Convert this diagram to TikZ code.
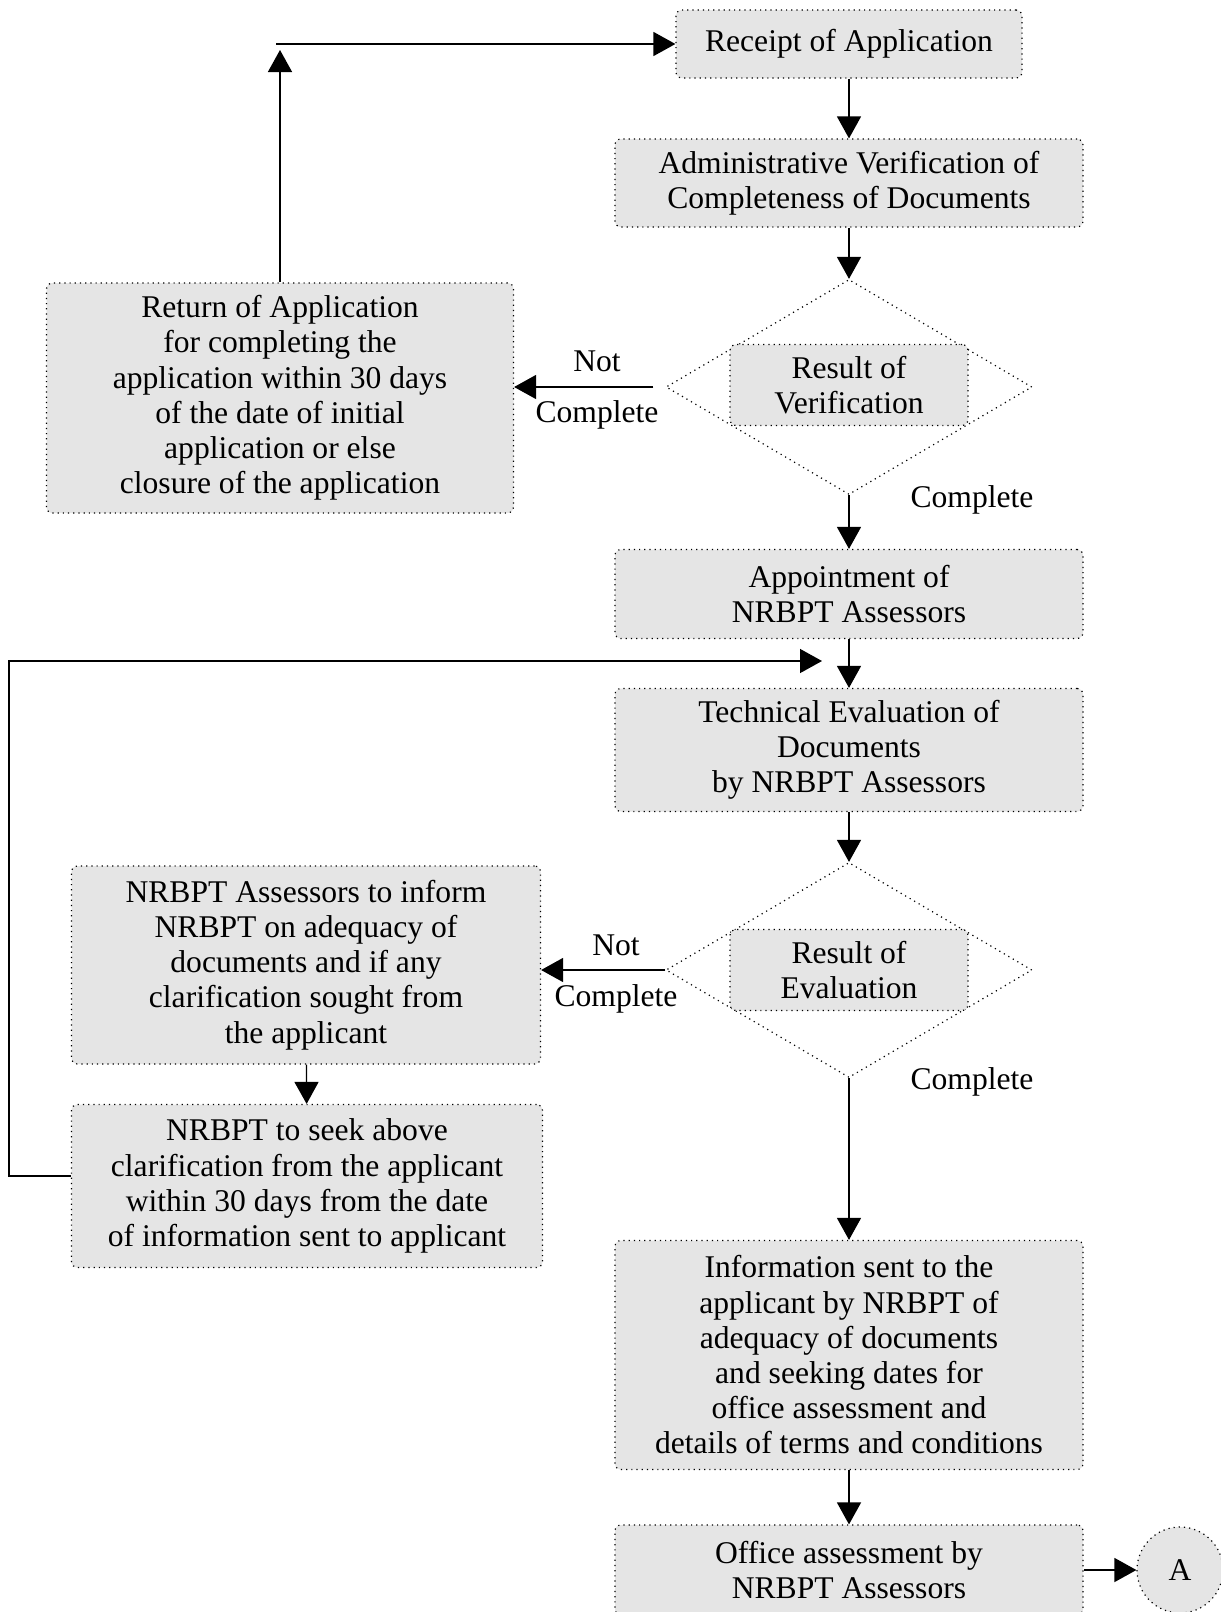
\documentclass[tikz,border=0pt]{standalone}
\usepackage{fontspec}
\setmainfont{Liberation Serif}
\usetikzlibrary{arrows.meta,shapes.geometric}
\tikzstyle{flowchartstyle}=[
    x=0.5pt, y=-0.5pt,
    >={Triangle[length=11pt,width=12pt]},
    line width=0.7pt,
    every node/.style={
        font=\fontsize{15.8}{17.6}\selectfont,
        align=center,
    },
    procbox/.style={
        draw, dotted, line width=0.6pt, fill=black!10,
        rounded corners=3pt, inner sep=0pt,
    },
    decision/.style={
        draw, dotted, line width=0.6pt, diamond, inner sep=0pt,
        minimum width=183pt, minimum height=107.5pt,
    },
    connector/.style={
        draw, dotted, line width=0.6pt, circle, fill=black!10,
        minimum size=43pt, inner sep=0pt,
    },
]

\begin{document}
\begin{tikzpicture}[flowchartstyle]
        \useasboundingbox[fill=white] (0,0) rectangle (1221,1612);
        % main column
        \node[procbox, minimum width=173pt, minimum height=34pt] (receipt) at (849, 44) {Receipt of Application};
        \node[procbox, minimum width=234pt, minimum height=44pt] (admin) at (849, 183) {Administrative Verification of\\Completeness of Documents};
        \node[decision] (verif) at (849, 387) {};
        \node[procbox, minimum width=119pt, minimum height=40.5pt] (verifbox) at (849, 385) {Result of\\Verification};
        \node[procbox, minimum width=234pt, minimum height=44.5pt] (appoint) at (849, 594) {Appointment of\\NRBPT Assessors};
        \node[procbox, minimum width=234pt, minimum height=61.5pt] (tech) at (849, 750) {Technical Evaluation of\\Documents\\by NRBPT Assessors};
        \node[decision] (eval) at (849, 970) {};
        \node[procbox, minimum width=119pt, minimum height=40.5pt] (evalbox) at (849, 970) {Result of\\Evaluation};
        \node[procbox, minimum width=234pt, minimum height=114.5pt] (info) at (849, 1355) {Information sent to the\\applicant by NRBPT of\\adequacy of documents\\and seeking dates for\\office assessment and\\details of terms and conditions};
        \node[procbox, minimum width=234pt, minimum height=45pt] (office) at (849, 1570) {Office assessment by\\NRBPT Assessors};
        \node[connector] (conA) at (1180, 1570) {A};
        % left column
        \node[procbox, minimum width=233.5pt, minimum height=115pt] (return) at (280, 398) {Return of Application\\for completing the\\application within 30 days\\of the date of initial\\application or else\\closure of the application};
        \node[procbox, minimum width=234.5pt, minimum height=99pt] (inform) at (306, 965) {NRBPT Assessors to inform\\NRBPT on adequacy of\\documents and if any\\clarification sought from\\the applicant};
        \node[procbox, minimum width=235.5pt, minimum height=81.5pt] (seek) at (307, 1186) {NRBPT to seek above\\clarification from the applicant\\within 30 days from the date\\of information sent to applicant};
        % labels
        \node (notverif) at (597, 390) {Not\\[8pt]Complete};
        \node (okverif) at (972, 500) {Complete};
        \node (noteval) at (616, 974) {Not\\[8pt]Complete};
        \node (okeval) at (972, 1082) {Complete};
        % turning points
        \coordinate (uptip) at (280, 50);
        \coordinate (upleft) at (276, 44);
        \coordinate (loopdown) at (9, 1176);
        \coordinate (loopup) at (9, 661);
        \coordinate (looptip) at (822, 661);
        % connectors
        \draw[->] (receipt) -- (admin);
        \draw[->] (admin) -- (verif);
        \draw[->] ([xshift=-6pt]verif.west) -- (verif.west -| return.east);
        \draw[->] (verif) -- (appoint);
        \draw[->] (appoint) -- (tech);
        \draw[->] (tech) -- (eval);
        \draw[->] (eval.west) -- (eval.west -| inform.east);
        \draw[->] (inform) -- (seek);
        \draw[->] (eval) -- (info);
        \draw[->] (info) -- (office);
        \draw[->] (office) -- (conA);
        \draw[->] (return) -- (uptip);
        \draw[->] (upleft) -- (receipt);
        \draw[->] (seek.west |- loopdown) -- (loopdown) -- (loopup) -- (looptip);
    \end{tikzpicture}
\end{document}
